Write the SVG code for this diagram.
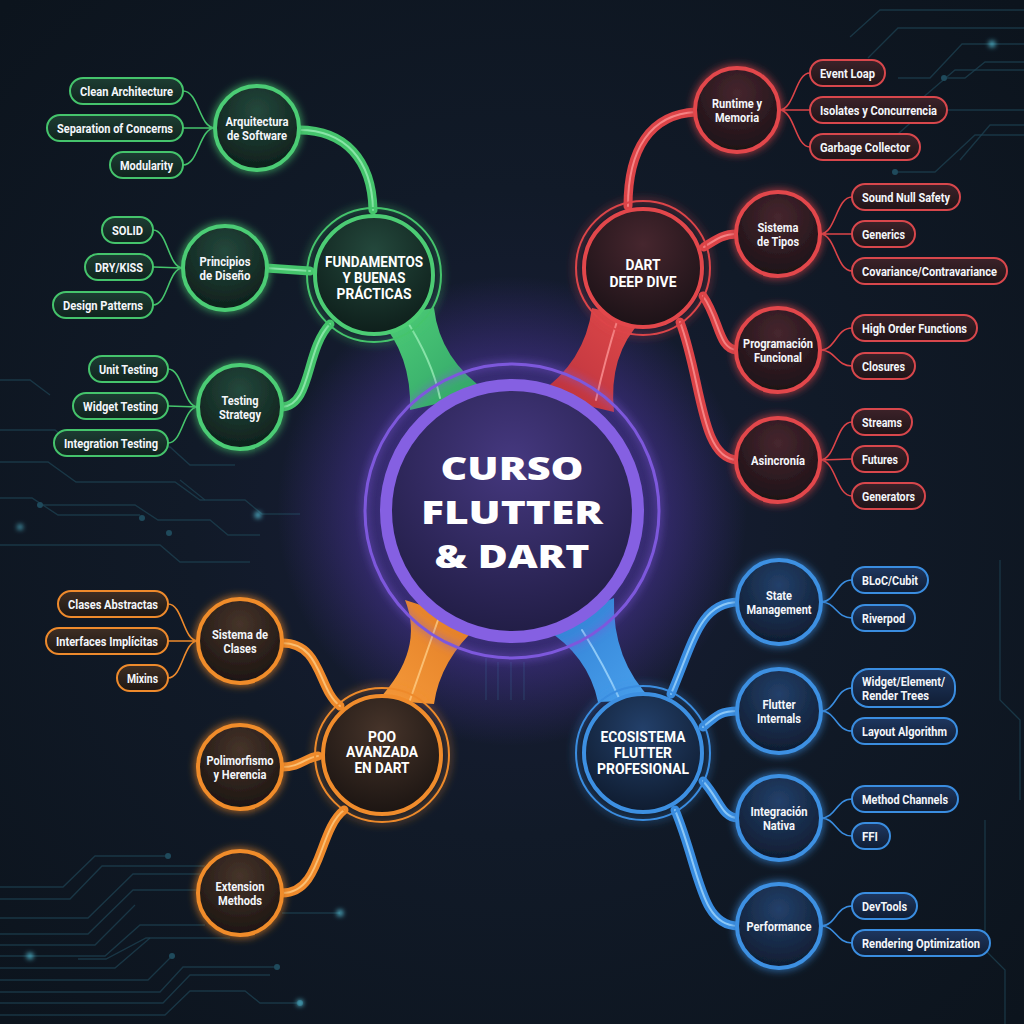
<svg xmlns="http://www.w3.org/2000/svg" width="1024" height="1024" viewBox="0 0 1024 1024">
<defs>
<style>
.circ{fill:none;stroke:#1d4152;stroke-width:1.3;opacity:.75}
.dot{fill:#1f4a5c}
.glowdot{fill:#5fd6ee}
.leaf{font-family:Roboto,"Liberation Sans",sans-serif;font-weight:700;font-size:12.5px;fill:#f4f6fa}
.subt{font-family:Roboto,"Liberation Sans",sans-serif;font-weight:700;font-size:12.5px;fill:#f4f6fa;text-anchor:middle}
.hubt{font-family:Roboto,"Liberation Sans",sans-serif;font-weight:700;font-size:14.5px;fill:#ffffff;text-anchor:middle}
.maint{font-family:"Open Sans","Liberation Sans",sans-serif;font-weight:800;font-size:32px;fill:#ffffff;text-anchor:middle}
.thin{fill:none;stroke-width:1.6}
.tube{fill:none;stroke-width:9;stroke-linecap:round}
.tubehl{fill:none;stroke-width:2;stroke-linecap:round;opacity:.75}
.g{stroke:#45c46c}.gl{stroke:#9ff0bb}
.r{stroke:#dc4448}.rl{stroke:#ff9a9a}
.o{stroke:#ee8a2c}.ol{stroke:#ffd08a}
.b{stroke:#3a8de0}.bl{stroke:#a8dcff}
.pill{stroke-width:2}
.pg{fill:url(#pgG);stroke:#45c46c}
.pr{fill:url(#pgR);stroke:#d8474c}
.po{fill:url(#pgO);stroke:#ee8a2c}
.pb{fill:url(#pgB);stroke:#3a8de0}
.sg{fill:url(#sgG);stroke:#4ccc74;stroke-width:4}
.sr{fill:url(#sgR);stroke:#e2474b;stroke-width:4}
.so{fill:url(#sgO);stroke:#f08c2c;stroke-width:4}
.sb{fill:url(#sgB);stroke:#3d90e2;stroke-width:4}
.ring{fill:none;stroke-width:2}
</style>
<radialGradient id="bg" cx="50%" cy="50%" r="70%">
<stop offset="0" stop-color="#1a1e3a"/>
<stop offset="0.45" stop-color="#111a28"/>
<stop offset="1" stop-color="#0c141d"/>
</radialGradient>
<radialGradient id="cglow" cx="50%" cy="50%" r="50%">
<stop offset="0.5" stop-color="#6a44d8" stop-opacity="0.45"/>
<stop offset="1" stop-color="#6a44d8" stop-opacity="0"/>
</radialGradient>
<radialGradient id="cfill" cx="50%" cy="30%" r="70%">
<stop offset="0" stop-color="#45387f"/>
<stop offset="1" stop-color="#211d45"/>
</radialGradient>
<radialGradient id="sgG" cx="50%" cy="30%" r="70%"><stop offset="0" stop-color="#24483c"/><stop offset="1" stop-color="#0e1f1b"/></radialGradient>
<radialGradient id="sgR" cx="50%" cy="30%" r="70%"><stop offset="0" stop-color="#46262e"/><stop offset="1" stop-color="#1c1217"/></radialGradient>
<radialGradient id="sgO" cx="50%" cy="30%" r="70%"><stop offset="0" stop-color="#46342a"/><stop offset="1" stop-color="#1c1512"/></radialGradient>
<radialGradient id="sgB" cx="50%" cy="30%" r="70%"><stop offset="0" stop-color="#23406a"/><stop offset="1" stop-color="#0f1c30"/></radialGradient>
<linearGradient id="pgG" x1="0" y1="0" x2="0" y2="1"><stop offset="0" stop-color="#1d3d33"/><stop offset="1" stop-color="#10231e"/></linearGradient>
<linearGradient id="pgR" x1="0" y1="0" x2="0" y2="1"><stop offset="0" stop-color="#3c2229"/><stop offset="1" stop-color="#1f1418"/></linearGradient>
<linearGradient id="pgO" x1="0" y1="0" x2="0" y2="1"><stop offset="0" stop-color="#3e2e24"/><stop offset="1" stop-color="#1f1814"/></linearGradient>
<linearGradient id="pgB" x1="0" y1="0" x2="0" y2="1"><stop offset="0" stop-color="#1e3760"/><stop offset="1" stop-color="#101d33"/></linearGradient>
<linearGradient id="tG" x1="0" y1="0" x2="1" y2="1"><stop offset="0" stop-color="#4fcf78"/><stop offset="1" stop-color="#2fa067"/></linearGradient>
<linearGradient id="tR" x1="1" y1="0" x2="0" y2="1"><stop offset="0" stop-color="#e04a4a"/><stop offset="1" stop-color="#b8303c"/></linearGradient>
<linearGradient id="tO" x1="0" y1="1" x2="1" y2="0"><stop offset="0" stop-color="#f59a3a"/><stop offset="1" stop-color="#e07a24"/></linearGradient>
<linearGradient id="tB" x1="1" y1="1" x2="0" y2="0"><stop offset="0" stop-color="#4aa2ee"/><stop offset="1" stop-color="#2f7cd0"/></linearGradient>
<filter id="glow" x="-30%" y="-30%" width="160%" height="160%">
<feGaussianBlur in="SourceGraphic" stdDeviation="4" result="b"/>
<feMerge><feMergeNode in="b"/><feMergeNode in="SourceGraphic"/></feMerge>
</filter>
<filter id="soft" x="-50%" y="-50%" width="200%" height="200%">
<feGaussianBlur stdDeviation="2.5"/>
</filter>
</defs>

<rect width="1024" height="1024" fill="url(#bg)"/>

<g id="background-circuits">
<path class="circ" d="M0,430 H55 L75,447 H170 L190,465 H235"/>
<path class="circ" d="M0,462 H48 L76,482 H175 L200,500 H245 L262,514 H300"/>
<path class="circ" d="M0,498 H32 L58,515 H140"/>
<path class="circ" d="M40,505 H135 L158,520 H210 L228,535 H260"/>
<path class="circ" d="M0,545 H160 L180,562 H250"/>
<path class="circ" d="M180,480 L205,500"/>
<path class="circ" d="M0,887 H63 L95,856 H168"/>
<path class="circ" d="M0,899 H70 L102,866 H205"/>
<path class="circ" d="M0,918 H88 L133,874 H200"/>
<path class="circ" d="M0,934 H88 L133,890 H200"/>
<path class="circ" d="M0,945 H95 L135,905"/>
<path class="circ" d="M0,956 H105 L140,925 H205"/>
<path class="circ" d="M78,959 H106 L146,938 H230"/>
<path class="circ" d="M0,968 H115 L150,938"/>
<path class="circ" d="M0,980 H148 L172,956"/>
<path class="circ" d="M0,992 H160 L183,967 H277"/>
<path class="circ" d="M0,1003 H163 L190,975 H270"/>
<path class="circ" d="M0,1015 H165 L190,991 H245 L260,1003 H300"/>
<path class="circ" d="M282,913 H340"/>
<path class="circ" d="M850,37 L880,10 H1024"/>
<path class="circ" d="M868,58 L898,28 H1024"/>
<path class="circ" d="M898,78 H930 L962,44 H1024"/>
<path class="circ" d="M944,78 H965 L985,62 H1024"/>
<path class="circ" d="M920,100 L955,70 H1024"/>
<path class="circ" d="M880,150 L925,110 H1024"/>
<path class="circ" d="M895,172 H935 L975,135 H1024"/>
<path class="circ" d="M960,160 L990,125 H1024"/>
<path class="circ" d="M1000,560 V700 L1020,720 V800"/>
<path class="circ" d="M985,820 V950 L1005,970 V1024"/>
<path class="circ" d="M486,658 V700 M498,662 V700 M511,662 V700 M524,662 V700"/>
<path class="circ" d="M0,380 H30 L50,395"/>
<circle class="dot" cx="168" cy="856" r="3"/>
<circle class="dot" cx="277" cy="967" r="3"/>
<circle class="dot" cx="172" cy="956" r="3"/>
<circle class="dot" cx="300" cy="1003" r="3"/>
<circle class="dot" cx="944" cy="78" r="3"/>
<circle class="dot" cx="895" cy="172" r="3"/>
<circle class="dot" cx="40" cy="505" r="3"/>
<circle class="dot" cx="142" cy="518" r="3"/>
<circle class="dot" cx="169" cy="533" r="3"/>
<g filter="url(#soft)">
<circle class="glowdot" cx="340" cy="913" r="3"/>
<circle class="glowdot" cx="30" cy="956" r="3"/>
<circle class="glowdot" cx="300" cy="1003" r="3"/>
<circle class="glowdot" cx="992" cy="44" r="3"/>
<circle class="glowdot" cx="20" cy="527" r="2.5"/>
<circle class="glowdot" cx="258" cy="515" r="3"/>
</g>
</g>

<circle cx="512" cy="511" r="235" fill="url(#cglow)"/>

<g id="connectors">
<g id="hub-tubes">
<path fill="url(#tG)" d="M378,318 Q412,355 410,410 L488,392 Q440,360 434,308 Z"/>
<path class="tubehl gl" d="M405,318 Q432,360 440,398"/>
<path fill="url(#tR)" d="M592,308 Q585,362 538,394 L614,412 Q608,355 642,320 Z"/>
<path class="tubehl rl" d="M618,318 Q605,360 596,400"/>
<path fill="url(#tO)" d="M405,600 Q425,650 378,700 L434,704 Q440,660 480,624 Z"/>
<path class="tubehl ol" d="M438,620 Q424,660 410,700"/>
<path fill="url(#tB)" d="M544,628 Q588,655 598,702 L652,700 Q612,660 614,598 Z"/>
<path class="tubehl bl" d="M582,630 Q604,665 620,700"/>
</g>
<g id="sub-tubes">
<path class="tube g" d="M299,130 C345,130 372,160 373,210"/>
<path class="tubehl gl" d="M299,130 C345,130 372,160 373,210"/>
<path class="tube g" d="M266,268 L310,271"/>
<path class="tubehl gl" d="M266,268 L310,271"/>
<path class="tube g" d="M282,407 C312,405 305,350 330,324"/>
<path class="tubehl gl" d="M282,407 C312,405 305,350 330,324"/>

<path class="tube r" d="M696,112 C650,114 628,150 628,206"/>
<path class="tubehl rl" d="M696,112 C650,114 628,150 628,206"/>
<path class="tube r" d="M704,247 C718,238 724,234 737,234"/>
<path class="tubehl rl" d="M704,247 C718,238 724,234 737,234"/>
<path class="tube r" d="M703,296 C720,320 718,349 737,350"/>
<path class="tubehl rl" d="M703,296 C720,320 718,349 737,350"/>
<path class="tube r" d="M680,322 C702,380 700,458 737,460"/>
<path class="tubehl rl" d="M680,322 C702,380 700,458 737,460"/>

<path class="tube b" d="M671,694 C694,640 700,603 738,602"/>
<path class="tubehl bl" d="M671,694 C694,640 700,603 738,602"/>
<path class="tube b" d="M703,727 C718,714 722,711 738,711"/>
<path class="tubehl bl" d="M703,727 C718,714 722,711 738,711"/>
<path class="tube b" d="M703,781 C720,800 722,818 738,818"/>
<path class="tubehl bl" d="M703,781 C720,800 722,818 738,818"/>
<path class="tube b" d="M675,810 C700,870 700,926 738,926"/>
<path class="tubehl bl" d="M675,810 C700,870 700,926 738,926"/>

<path class="tube o" d="M282,643 C322,643 318,690 340,706"/>
<path class="tubehl ol" d="M282,643 C322,643 318,690 340,706"/>
<path class="tube o" d="M282,767 C300,767 305,758 318,756"/>
<path class="tubehl ol" d="M282,767 C300,767 305,758 318,756"/>
<path class="tube o" d="M282,893 C322,893 318,830 344,810"/>
<path class="tubehl ol" d="M282,893 C322,893 318,830 344,810"/>
</g>
<g id="leaf-links">
<path class="thin g" d="M215,128 C199,128 199,91 183,91 M215,128 L183,128 M215,128 C199,128 199,165 183,165"/>
<path class="thin g" d="M183,268 C168,268 168,230 153,230 M183,268 L153,267 M183,268 C168,268 168,305 153,305"/>
<path class="thin g" d="M198,407 C183,407 183,369 168,369 M198,407 L168,406 M198,407 C183,407 183,443 168,443"/>
<path class="thin r" d="M779,110 C795,110 795,73 810,73 M779,110 L810,110 M779,110 C795,110 795,147 810,147"/>
<path class="thin r" d="M820,234 C836,234 836,197 852,197 M820,234 L852,234 M820,234 C836,234 836,271 852,271"/>
<path class="thin r" d="M820,350 C836,350 836,328 852,328 M820,350 C836,350 836,366 852,366"/>
<path class="thin r" d="M820,460 C836,460 836,422 852,422 M820,460 L852,459 M820,460 C836,460 836,496 852,496"/>
<path class="thin b" d="M821,602 C836,602 836,580 852,580 M821,602 C836,602 836,618 852,618"/>
<path class="thin b" d="M821,711 C836,711 836,688 852,688 M821,711 C836,711 836,731 852,731"/>
<path class="thin b" d="M821,818 C836,818 836,799 852,799 M821,818 C836,818 836,836 852,836"/>
<path class="thin b" d="M821,926 C836,926 836,906 852,906 M821,926 C836,926 836,943 852,943"/>
<path class="thin o" d="M198,641 C183,641 183,604 168,604 M198,641 L168,641 M198,641 C183,641 183,678 168,678"/>
</g>
</g>

<g id="center">
<circle cx="512" cy="511" r="147" fill="none" stroke="#7d58dc" stroke-width="3" filter="url(#glow)"/>
<circle cx="512" cy="511" r="126" fill="url(#cfill)" stroke="#8560e2" stroke-width="12"/>
<text class="maint" x="512" y="480" textLength="143" lengthAdjust="spacingAndGlyphs">CURSO</text>
<text class="maint" x="512" y="524" textLength="182" lengthAdjust="spacingAndGlyphs">FLUTTER</text>
<text class="maint" x="512" y="568" textLength="155" lengthAdjust="spacingAndGlyphs">&amp; DART</text>
</g>

<g id="hub-fundamentos">
<circle class="ring g" cx="374" cy="275" r="67" filter="url(#glow)"/>
<circle class="sg" cx="374" cy="275" r="59"/>
<text class="hubt" x="374" y="267" textLength="98" lengthAdjust="spacingAndGlyphs">FUNDAMENTOS</text>
<text class="hubt" x="374" y="283" textLength="63" lengthAdjust="spacingAndGlyphs">Y BUENAS</text>
<text class="hubt" x="374" y="299" textLength="75" lengthAdjust="spacingAndGlyphs">PRÁCTICAS</text>
</g>
<g id="hub-dart">
<circle class="ring r" cx="643" cy="268" r="67" filter="url(#glow)"/>
<circle class="sr" cx="643" cy="268" r="59"/>
<text class="hubt" x="643" y="270" textLength="35" lengthAdjust="spacingAndGlyphs">DART</text>
<text class="hubt" x="643" y="287" textLength="67" lengthAdjust="spacingAndGlyphs">DEEP DIVE</text>
</g>
<g id="hub-poo">
<circle class="ring o" cx="382" cy="755" r="67" filter="url(#glow)"/>
<circle class="so" cx="382" cy="755" r="59"/>
<text class="hubt" x="382" y="742" textLength="28" lengthAdjust="spacingAndGlyphs">POO</text>
<text class="hubt" x="382" y="757" textLength="72" lengthAdjust="spacingAndGlyphs">AVANZADA</text>
<text class="hubt" x="382" y="773" textLength="55" lengthAdjust="spacingAndGlyphs">EN DART</text>
</g>
<g id="hub-ecosistema">
<circle class="ring b" cx="643" cy="753" r="67" filter="url(#glow)"/>
<circle class="sb" cx="643" cy="753" r="59"/>
<text class="hubt" x="643" y="742" textLength="85" lengthAdjust="spacingAndGlyphs">ECOSISTEMA</text>
<text class="hubt" x="643" y="758" textLength="58" lengthAdjust="spacingAndGlyphs">FLUTTER</text>
<text class="hubt" x="643" y="774" textLength="92" lengthAdjust="spacingAndGlyphs">PROFESIONAL</text>
</g>

<g id="sub-arquitectura"><circle class="sg" cx="257" cy="128" r="42" filter="url(#glow)"/><text class="subt" x="257" y="126" textLength="63" lengthAdjust="spacingAndGlyphs">Arquitectura</text><text class="subt" x="257" y="140" textLength="60" lengthAdjust="spacingAndGlyphs">de Software</text></g>
<g id="sub-principios"><circle class="sg" cx="225" cy="268" r="42" filter="url(#glow)"/><text class="subt" x="225" y="266" textLength="51" lengthAdjust="spacingAndGlyphs">Principios</text><text class="subt" x="225" y="280" textLength="51" lengthAdjust="spacingAndGlyphs">de Diseño</text></g>
<g id="sub-testing"><circle class="sg" cx="240" cy="407" r="42" filter="url(#glow)"/><text class="subt" x="240" y="405" textLength="37" lengthAdjust="spacingAndGlyphs">Testing</text><text class="subt" x="240" y="419" textLength="42" lengthAdjust="spacingAndGlyphs">Strategy</text></g>

<g id="sub-runtime"><circle class="sr" cx="737" cy="110" r="42" filter="url(#glow)"/><text class="subt" x="737" y="108" textLength="50" lengthAdjust="spacingAndGlyphs">Runtime y</text><text class="subt" x="737" y="122" textLength="44" lengthAdjust="spacingAndGlyphs">Memoria</text></g>
<g id="sub-tipos"><circle class="sr" cx="778" cy="234" r="42" filter="url(#glow)"/><text class="subt" x="778" y="232" textLength="41" lengthAdjust="spacingAndGlyphs">Sistema</text><text class="subt" x="778" y="246" textLength="42" lengthAdjust="spacingAndGlyphs">de Tipos</text></g>
<g id="sub-funcional"><circle class="sr" cx="778" cy="350" r="42" filter="url(#glow)"/><text class="subt" x="778" y="348" textLength="70" lengthAdjust="spacingAndGlyphs">Programación</text><text class="subt" x="778" y="362" textLength="48" lengthAdjust="spacingAndGlyphs">Funcional</text></g>
<g id="sub-asincronia"><circle class="sr" cx="778" cy="460" r="42" filter="url(#glow)"/><text class="subt" x="778" y="465" textLength="54" lengthAdjust="spacingAndGlyphs">Asincronía</text></g>

<g id="sub-state"><circle class="sb" cx="779" cy="602" r="42" filter="url(#glow)"/><text class="subt" x="779" y="600" textLength="26" lengthAdjust="spacingAndGlyphs">State</text><text class="subt" x="779" y="614" textLength="65" lengthAdjust="spacingAndGlyphs">Management</text></g>
<g id="sub-internals"><circle class="sb" cx="779" cy="711" r="42" filter="url(#glow)"/><text class="subt" x="779" y="709" textLength="33" lengthAdjust="spacingAndGlyphs">Flutter</text><text class="subt" x="779" y="723" textLength="44" lengthAdjust="spacingAndGlyphs">Internals</text></g>
<g id="sub-nativa"><circle class="sb" cx="779" cy="818" r="42" filter="url(#glow)"/><text class="subt" x="779" y="816" textLength="57" lengthAdjust="spacingAndGlyphs">Integración</text><text class="subt" x="779" y="830" textLength="32" lengthAdjust="spacingAndGlyphs">Nativa</text></g>
<g id="sub-performance"><circle class="sb" cx="779" cy="926" r="42" filter="url(#glow)"/><text class="subt" x="779" y="931" textLength="65" lengthAdjust="spacingAndGlyphs">Performance</text></g>

<g id="sub-clases"><circle class="so" cx="240" cy="641" r="42" filter="url(#glow)"/><text class="subt" x="240" y="639" textLength="56" lengthAdjust="spacingAndGlyphs">Sistema de</text><text class="subt" x="240" y="653" textLength="33" lengthAdjust="spacingAndGlyphs">Clases</text></g>
<g id="sub-polimorfismo"><circle class="so" cx="240" cy="767" r="42" filter="url(#glow)"/><text class="subt" x="240" y="765" textLength="67" lengthAdjust="spacingAndGlyphs">Polimorfismo</text><text class="subt" x="240" y="779" textLength="53" lengthAdjust="spacingAndGlyphs">y Herencia</text></g>
<g id="sub-extension"><circle class="so" cx="240" cy="893" r="42" filter="url(#glow)"/><text class="subt" x="240" y="891" textLength="49" lengthAdjust="spacingAndGlyphs">Extension</text><text class="subt" x="240" y="905" textLength="44" lengthAdjust="spacingAndGlyphs">Methods</text></g>

<g id="leaves-green">
<g id="leaf-clean"><rect class="pill pg" x="70" y="78" width="113" height="26" rx="13"/><text class="leaf" x="80" y="95.5" textLength="93" lengthAdjust="spacingAndGlyphs">Clean Architecture</text></g>
<g id="leaf-separation"><rect class="pill pg" x="47" y="115" width="136" height="26" rx="13"/><text class="leaf" x="57" y="132.5" textLength="116" lengthAdjust="spacingAndGlyphs">Separation of Concerns</text></g>
<g id="leaf-modularity"><rect class="pill pg" x="110" y="152" width="73" height="26" rx="13"/><text class="leaf" x="120" y="169.5" textLength="53" lengthAdjust="spacingAndGlyphs">Modularity</text></g>
<g id="leaf-solid"><rect class="pill pg" x="102" y="217" width="51" height="26" rx="13"/><text class="leaf" x="112" y="234.5" textLength="31" lengthAdjust="spacingAndGlyphs">SOLID</text></g>
<g id="leaf-dry"><rect class="pill pg" x="85" y="254" width="68" height="26" rx="13"/><text class="leaf" x="95" y="271.5" textLength="48" lengthAdjust="spacingAndGlyphs">DRY/KISS</text></g>
<g id="leaf-patterns"><rect class="pill pg" x="53" y="292" width="100" height="26" rx="13"/><text class="leaf" x="63" y="309.5" textLength="80" lengthAdjust="spacingAndGlyphs">Design Patterns</text></g>
<g id="leaf-unit"><rect class="pill pg" x="89" y="356" width="79" height="26" rx="13"/><text class="leaf" x="99" y="373.5" textLength="59" lengthAdjust="spacingAndGlyphs">Unit Testing</text></g>
<g id="leaf-widget"><rect class="pill pg" x="73" y="393" width="95" height="26" rx="13"/><text class="leaf" x="83" y="410.5" textLength="75" lengthAdjust="spacingAndGlyphs">Widget Testing</text></g>
<g id="leaf-integration"><rect class="pill pg" x="54" y="430" width="114" height="26" rx="13"/><text class="leaf" x="64" y="447.5" textLength="94" lengthAdjust="spacingAndGlyphs">Integration Testing</text></g>
</g>

<g id="leaves-red">
<g id="leaf-event"><rect class="pill pr" x="810" y="60" width="75" height="26" rx="13"/><text class="leaf" x="820" y="77.5" textLength="55" lengthAdjust="spacingAndGlyphs">Event Loap</text></g>
<g id="leaf-isolates"><rect class="pill pr" x="810" y="97" width="137" height="26" rx="13"/><text class="leaf" x="820" y="114.5" textLength="117" lengthAdjust="spacingAndGlyphs">Isolates y Concurrencia</text></g>
<g id="leaf-garbage"><rect class="pill pr" x="810" y="134" width="110" height="26" rx="13"/><text class="leaf" x="820" y="151.5" textLength="90" lengthAdjust="spacingAndGlyphs">Garbage Collector</text></g>
<g id="leaf-null"><rect class="pill pr" x="852" y="184" width="108" height="26" rx="13"/><text class="leaf" x="862" y="201.5" textLength="88" lengthAdjust="spacingAndGlyphs">Sound Null Safety</text></g>
<g id="leaf-generics"><rect class="pill pr" x="852" y="221" width="63" height="26" rx="13"/><text class="leaf" x="862" y="238.5" textLength="43" lengthAdjust="spacingAndGlyphs">Generics</text></g>
<g id="leaf-covariance"><rect class="pill pr" x="852" y="258" width="155" height="26" rx="13"/><text class="leaf" x="862" y="275.5" textLength="135" lengthAdjust="spacingAndGlyphs">Covariance/Contravariance</text></g>
<g id="leaf-hof"><rect class="pill pr" x="852" y="315" width="125" height="26" rx="13"/><text class="leaf" x="862" y="332.5" textLength="105" lengthAdjust="spacingAndGlyphs">High Order Functions</text></g>
<g id="leaf-closures"><rect class="pill pr" x="852" y="353" width="63" height="26" rx="13"/><text class="leaf" x="862" y="370.5" textLength="43" lengthAdjust="spacingAndGlyphs">Closures</text></g>
<g id="leaf-streams"><rect class="pill pr" x="852" y="409" width="60" height="26" rx="13"/><text class="leaf" x="862" y="426.5" textLength="40" lengthAdjust="spacingAndGlyphs">Streams</text></g>
<g id="leaf-futures"><rect class="pill pr" x="852" y="446" width="56" height="26" rx="13"/><text class="leaf" x="862" y="463.5" textLength="36" lengthAdjust="spacingAndGlyphs">Futures</text></g>
<g id="leaf-generators"><rect class="pill pr" x="852" y="483" width="73" height="26" rx="13"/><text class="leaf" x="862" y="500.5" textLength="53" lengthAdjust="spacingAndGlyphs">Generators</text></g>
</g>

<g id="leaves-blue">
<g id="leaf-bloc"><rect class="pill pb" x="852" y="567" width="76" height="26" rx="13"/><text class="leaf" x="862" y="584.5" textLength="56" lengthAdjust="spacingAndGlyphs">BLoC/Cubit</text></g>
<g id="leaf-riverpod"><rect class="pill pb" x="852" y="605" width="63" height="26" rx="13"/><text class="leaf" x="862" y="622.5" textLength="43" lengthAdjust="spacingAndGlyphs">Riverpod</text></g>
<g id="leaf-trees"><rect class="pill pb" x="852" y="669" width="103" height="38" rx="17"/><text class="leaf" x="862" y="686" textLength="83" lengthAdjust="spacingAndGlyphs">Widget/Element/</text><text class="leaf" x="862" y="700" textLength="67" lengthAdjust="spacingAndGlyphs">Render Trees</text></g>
<g id="leaf-layout"><rect class="pill pb" x="852" y="718" width="105" height="26" rx="13"/><text class="leaf" x="862" y="735.5" textLength="85" lengthAdjust="spacingAndGlyphs">Layout Algorithm</text></g>
<g id="leaf-channels"><rect class="pill pb" x="852" y="786" width="106" height="26" rx="13"/><text class="leaf" x="862" y="803.5" textLength="86" lengthAdjust="spacingAndGlyphs">Method Channels</text></g>
<g id="leaf-ffi"><rect class="pill pb" x="852" y="823" width="38" height="26" rx="13"/><text class="leaf" x="862" y="840.5" textLength="16" lengthAdjust="spacingAndGlyphs">FFI</text></g>
<g id="leaf-devtools"><rect class="pill pb" x="852" y="893" width="65" height="26" rx="13"/><text class="leaf" x="862" y="910.5" textLength="45" lengthAdjust="spacingAndGlyphs">DevTools</text></g>
<g id="leaf-rendering"><rect class="pill pb" x="852" y="930" width="138" height="26" rx="13"/><text class="leaf" x="862" y="947.5" textLength="118" lengthAdjust="spacingAndGlyphs">Rendering Optimization</text></g>
</g>

<g id="leaves-orange">
<g id="leaf-abstractas"><rect class="pill po" x="58" y="591" width="110" height="26" rx="13"/><text class="leaf" x="68" y="608.5" textLength="90" lengthAdjust="spacingAndGlyphs">Clases Abstractas</text></g>
<g id="leaf-interfaces"><rect class="pill po" x="46" y="628" width="122" height="26" rx="13"/><text class="leaf" x="56" y="645.5" textLength="102" lengthAdjust="spacingAndGlyphs">Interfaces Implícitas</text></g>
<g id="leaf-mixins"><rect class="pill po" x="117" y="665" width="51" height="26" rx="13"/><text class="leaf" x="127" y="682.5" textLength="31" lengthAdjust="spacingAndGlyphs">Mixins</text></g>
</g>
</svg>
